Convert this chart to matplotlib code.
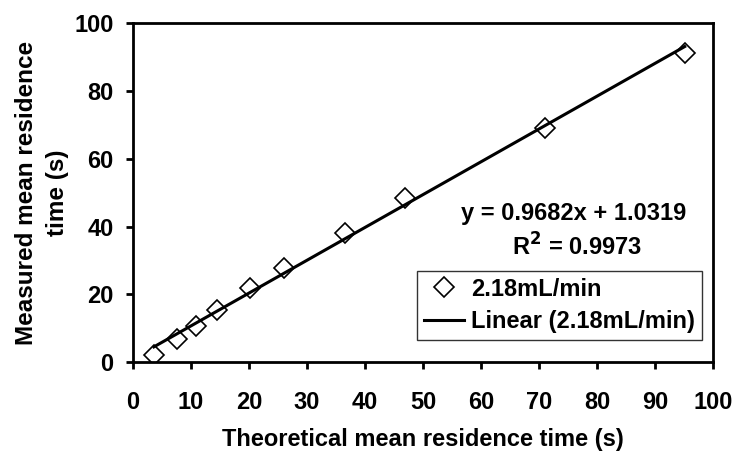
import numpy as np
import matplotlib.pyplot as plt

plt.rcParams['font.family'] = ['Liberation Sans', 'DejaVu Sans']
plt.rcParams['font.weight'] = 'bold'

# Data
theoretical = [3.6, 7.5, 10.8, 14.4, 20.2, 26.1, 36.5, 46.9, 71.0, 95.1]
measured = [2.1, 6.7, 10.6, 15.3, 22.0, 27.8, 38.0, 48.5, 69.1, 91.3]
slope = 0.9682
intercept = 1.0319
r2 = 0.9973
series_name = "2.18mL/min"

fig = plt.figure(figsize=(7.39, 4.55), dpi=100)
ax = fig.add_axes([0.180, 0.204, 0.785, 0.745])

xs = np.array([min(theoretical), max(theoretical)])
ax.plot(theoretical, measured, linestyle='none', marker='D', markersize=10,
        markerfacecolor='white', markeredgecolor='black', markeredgewidth=1.2,
        label=series_name, zorder=2)
ax.plot(xs, slope * xs + intercept, color='black', linewidth=2.2,
        label=f"Linear ({series_name})", zorder=3)

ax.set_xlim(0, 100)
ax.set_ylim(0, 100)
ax.set_xticks(np.arange(0, 101, 10))
ax.set_yticks(np.arange(0, 101, 20))
ax.tick_params(direction='out', length=5, width=2, labelsize=17)
ax.tick_params(axis='x', pad=16)
ax.tick_params(axis='y', pad=9)
for s in ax.spines.values():
    s.set_linewidth(2)

ax.set_xlabel("Theoretical mean residence time (s)", fontsize=17, fontweight='bold', labelpad=10)
ax.set_ylabel("Measured mean residence\ntime (s)", fontsize=17.5, fontweight='bold',
              labelpad=4, linespacing=1.45, multialignment='center')

ax.text(0.76, 0.44, f"y = {slope}x + {intercept}", transform=ax.transAxes,
        ha='center', va='center', fontsize=17, fontweight='bold')
ax.text(0.765, 0.34, f"R$^2$ = {r2}", transform=ax.transAxes,
        ha='center', va='center', fontsize=17, fontweight='bold')

leg = ax.legend(loc='lower right', bbox_to_anchor=(0.981, 0.065), fontsize=17,
                frameon=True, fancybox=False, edgecolor='black', borderpad=0.3,
                handlelength=1.7, handletextpad=0.3, labelspacing=0.4, borderaxespad=0)
leg.get_frame().set_linewidth(1)

fig.savefig("out.png", dpi=100)
